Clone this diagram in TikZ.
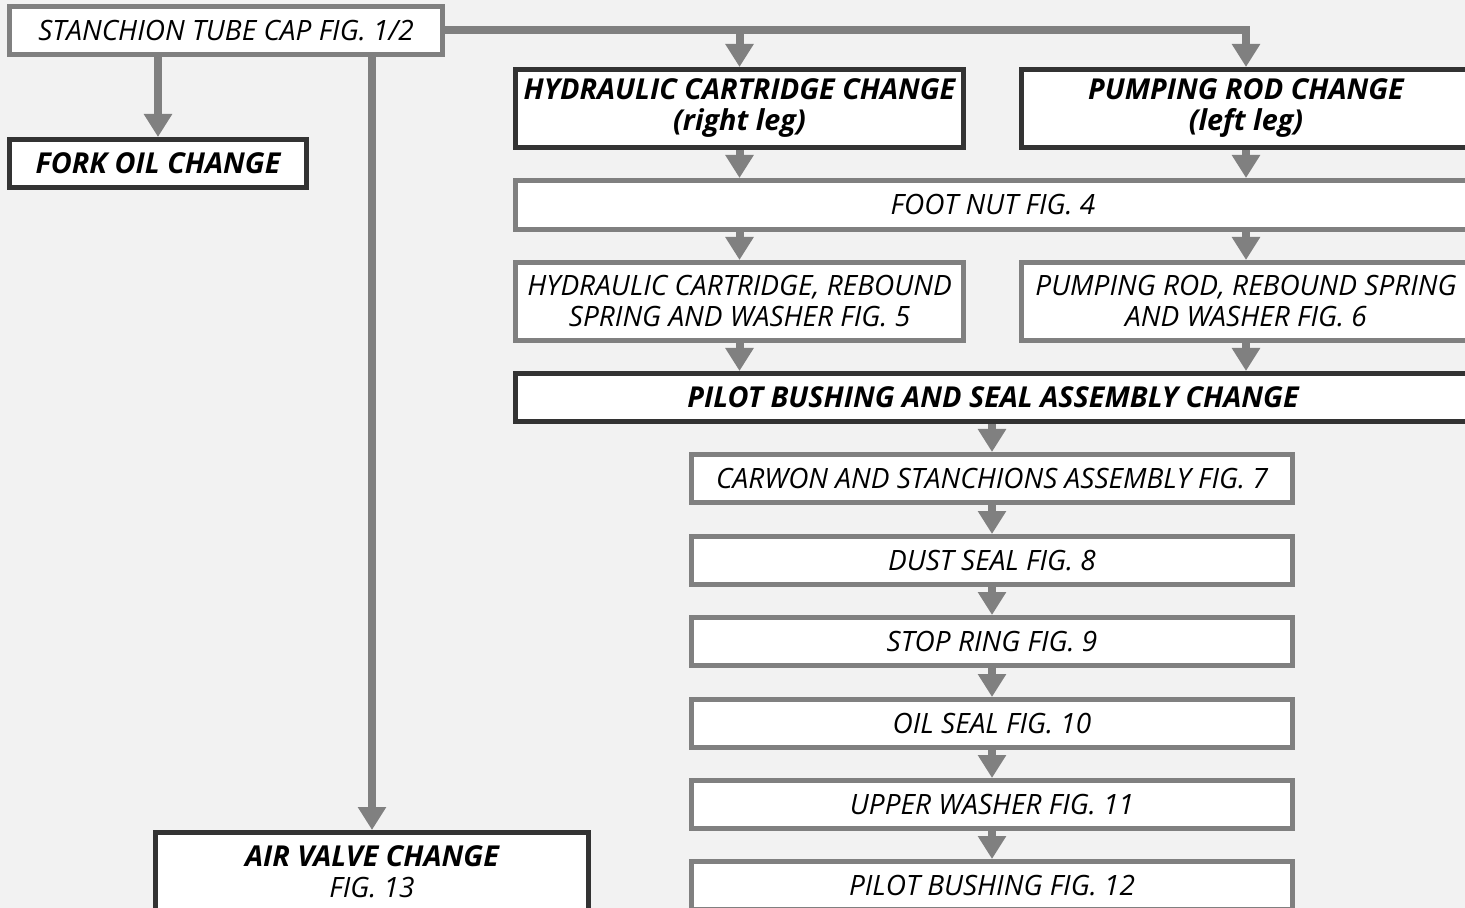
\documentclass[tikz,border=0pt]{standalone}
\usepackage{fontspec}
\setmainfont{Open Sans}
\usetikzlibrary{arrows.meta}
\definecolor{flowgray}{HTML}{808080}
\definecolor{flowdark}{HTML}{333333}
\definecolor{paper}{HTML}{F2F2F2}
\begin{document}
\begin{tikzpicture}[x=0.5pt,y=-0.5pt,
    boxsize/.style 2 args={minimum width=#1*0.5pt-2.5pt,minimum height=#2*0.5pt-2.5pt},
    stepnote/.style={draw=flowgray,fill=white,line width=2.5pt,inner sep=0pt,align=center,
      font=\itshape\fontsize{14}{15.5}\selectfont},
    stepmain/.style={stepnote,draw=flowdark,font=\bfseries\itshape\fontsize{14.4}{15.5}\selectfont},
    flow/.style={draw=flowgray,line width=4pt,-{Triangle[width=13.5pt,length=11.5pt]}}]
  \useasboundingbox[fill=paper] (0,0) rectangle (1465,908);
  \clip (0,0) rectangle (1465,908);
  % top row
  \node[stepnote,boxsize={438}{53}] (cap) at (226,30.5) {STANCHION TUBE CAP FIG. 1/2};
  \node[stepmain,boxsize={302}{53}] (oil) at (158,163.5) {FORK OIL CHANGE};
  \node[stepmain,boxsize={453}{83}] (hyd) at (739.5,108.5) {HYDRAULIC CARTRIDGE CHANGE\\(right leg)};
  \node[stepmain,boxsize={454}{83}] (pump) at (1246,108.5) {PUMPING ROD CHANGE\\(left leg)};
  % both legs
  \node[stepnote,boxsize={960}{54}] (foot) at (993,205) {FOOT NUT FIG. 4};
  \node[stepnote,boxsize={453}{83}] (cart) at (739.5,301.5) {HYDRAULIC CARTRIDGE, REBOUND\\SPRING AND WASHER FIG. 5};
  \node[stepnote,boxsize={454}{83}] (rod) at (1246,301.5) {PUMPING ROD, REBOUND SPRING\\AND WASHER FIG. 6};
  \node[stepmain,boxsize={960}{53}] (pilot) at (993,397.5) {PILOT BUSHING AND SEAL ASSEMBLY CHANGE};
  % seal column
  \node[stepnote,boxsize={606}{53}] (carwon) at (992,478.5) {CARWON AND STANCHIONS ASSEMBLY FIG. 7};
  \node[stepnote,boxsize={606}{53}] (dust) at (992,560.5) {DUST SEAL FIG. 8};
  \node[stepnote,boxsize={606}{53}] (stop) at (992,641.5) {STOP RING FIG. 9};
  \node[stepnote,boxsize={606}{53}] (seal) at (992,723.5) {OIL SEAL FIG. 10};
  \node[stepnote,boxsize={606}{53}] (washer) at (992,804.5) {UPPER WASHER FIG. 11};
  \node[stepnote,boxsize={606}{53}] (bush) at (992,885.5) {PILOT BUSHING FIG. 12};
  % air valve
  \node[stepnote,draw=flowdark,boxsize={438}{83}] (air) at (372,871.5) {{\bfseries\fontsize{14.4}{15.5}\selectfont AIR VALVE CHANGE}\\FIG. 13};

  \draw[flow] (cap.south -| oil.north) -- (oil.north);
  \draw[flow] (cap.south -| air.north) -- (air.north);
  \draw[flow] (cap.east) -| (hyd.north);
  \draw[flow] (cap.east) -| (pump.north);
  \draw[flow] (hyd.south) -- (hyd.south |- foot.north);
  \draw[flow] (pump.south) -- (pump.south |- foot.north);
  \draw[flow] (foot.south -| cart.north) -- (cart.north);
  \draw[flow] (foot.south -| rod.north) -- (rod.north);
  \draw[flow] (cart.south) -- (cart.south |- pilot.north);
  \draw[flow] (rod.south) -- (rod.south |- pilot.north);
  \draw[flow] (pilot.south -| carwon.north) -- (carwon.north);
  \draw[flow] (carwon.south) -- (dust.north);
  \draw[flow] (dust.south) -- (stop.north);
  \draw[flow] (stop.south) -- (seal.north);
  \draw[flow] (seal.south) -- (washer.north);
  \draw[flow] (washer.south) -- (bush.north);
\end{tikzpicture}
\end{document}
